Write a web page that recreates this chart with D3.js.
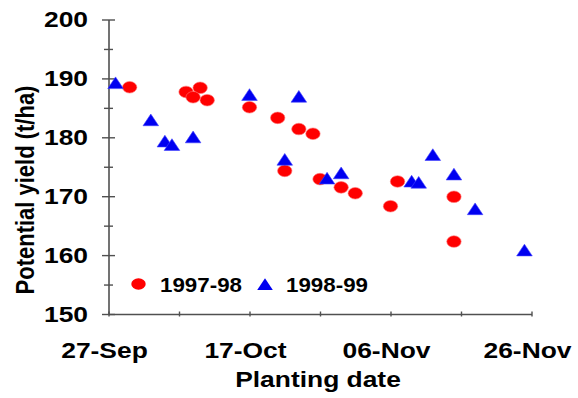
<!DOCTYPE html>
<html>
<head>
<meta charset="utf-8">
<script src="https://cdn.jsdelivr.net/npm/d3@7"></script>
<style>
  html, body { margin: 0; padding: 0; background: #fff; }
  svg { display: block; }
  text { font-family: "Liberation Sans", Arial, sans-serif; font-weight: bold; fill: #000; }
</style>
</head>
<body>
<svg id="chart" width="578" height="398"></svg>
<script>
// Planting dates (day-month) and potential yield (t/ha) for two seasons
const season1Label = "1997-98";
const season1Dates = ["30-Sep", "08-Oct", "10-Oct", "09-Oct", "11-Oct", "17-Oct", "21-Oct",
  "24-Oct", "26-Oct", "22-Oct", "27-Oct", "30-Oct", "01-Nov", "07-Nov", "06-Nov", "15-Nov", "15-Nov"];
const season1Yield = [188.5, 187.7, 188.4, 186.8, 186.3, 185.1, 183.3,
  181.4, 180.6, 174.3, 172.9, 171.5, 170.5, 172.5, 168.3, 169.9, 162.3];

const season2Label = "1998-99";
const season2Dates = ["28-Sep", "03-Oct", "05-Oct", "06-Oct", "09-Oct", "17-Oct", "24-Oct",
  "22-Oct", "28-Oct", "30-Oct", "09-Nov", "10-Nov", "12-Nov", "15-Nov", "18-Nov", "25-Nov"];
const season2Yield = [189.2, 182.9, 179.3, 178.7, 180.0, 187.2, 186.9,
  176.2, 173.0, 173.9, 172.5, 172.3, 177.0, 173.7, 167.8, 160.8];

const xStart = "27-Sep";
const xEnd = "26-Nov";
const xLabelDates = ["27-Sep", "17-Oct", "06-Nov", "26-Nov"];
const yTickValues = [150, 160, 170, 180, 190, 200];

const parseDay = s => d3.timeParse("%d-%b-%Y")(s + "-1997");
const fmtDay = d3.timeFormat("%d-%b");

const svg = d3.select("#chart");
const plotLeft = 108.5, plotRight = 531.5, plotTop = 19.5, plotBottom = 314;
const stretch = 1.2;   // horizontal widening of axis lettering
const axisColor = "#505050";

const x = d3.scaleTime().domain([parseDay(xStart), parseDay(xEnd)]).range([plotLeft, plotRight]);
const y = d3.scaleLinear().domain([150, 200]).range([plotBottom, plotTop]);

function label(g, px, py, str, size, anchor, sx) {
  return g.append("text")
    .attr("transform", `translate(${px},${py}) scale(${sx || stretch},1)`)
    .attr("text-anchor", anchor)
    .attr("font-size", size)
    .text(str);
}

// Y axis: line with crossing major and minor ticks
const yAxis = svg.append("g").attr("transform", `translate(${plotLeft},0)`)
  .call(d3.axisLeft(y).tickValues(d3.range(150, 201, 5)).tickFormat("").tickSizeOuter(0));
yAxis.select(".domain").attr("stroke", axisColor).attr("stroke-width", 1.6);
yAxis.selectAll(".tick line")
  .attr("x1", d => d % 10 === 0 ? -6.5 : -4.5)
  .attr("x2", d => d % 10 === 0 ? 6.5 : 4.5)
  .attr("stroke", axisColor).attr("stroke-width", 1.4);

// X axis: ticks every 10 days
const xTickDates = d3.timeDay.range(parseDay(xStart), d3.timeDay.offset(parseDay(xEnd), 1), 10);
const xAxis = svg.append("g").attr("transform", `translate(0,${plotBottom})`)
  .call(d3.axisBottom(x).tickValues(xTickDates).tickFormat("").tickSizeOuter(0));
xAxis.select(".domain").attr("stroke", axisColor).attr("stroke-width", 1.6);
xAxis.selectAll(".tick line")
  .attr("y1", -2.5).attr("y2", 2.5)
  .attr("stroke", axisColor).attr("stroke-width", 1.4);

// Tick labels
const labels = svg.append("g");
yTickValues.forEach(v => label(labels, 88, y(v) + 7.8, String(v), 22, "end"));
xLabelDates.forEach(s => label(labels, x(parseDay(s)) - 4, 358, fmtDay(parseDay(s)), 22, "middle"));

// Axis titles
label(svg, 318, 387, "Planting date", 22, "middle");
svg.append("text")
  .attr("transform", `translate(34,190) scale(${stretch},1) rotate(-90)`)
  .attr("text-anchor", "middle")
  .attr("font-size", 22)
  .text("Potential yield (t/ha)");

// Markers
const tri = (cx, cy) => `M${cx},${cy - 6.2}L${cx + 7.8},${cy + 5.5}L${cx - 7.8},${cy + 5.5}Z`;
const red = "#ff0000", blue = "#0000f0";

const s1 = season1Dates.map((d, i) => ({ date: parseDay(d), v: season1Yield[i] }));
const s2 = season2Dates.map((d, i) => ({ date: parseDay(d), v: season2Yield[i] }));

svg.append("g").selectAll("ellipse").data(s1).join("ellipse")
  .attr("cx", d => x(d.date)).attr("cy", d => y(d.v))
  .attr("rx", 7.2).attr("ry", 5.8)
  .attr("fill", red).attr("stroke", "#ff7070").attr("stroke-width", 0.6);

svg.append("g").selectAll("path").data(s2).join("path")
  .attr("d", d => tri(x(d.date), y(d.v)))
  .attr("fill", blue).attr("stroke", "#4040ff").attr("stroke-width", 0.6);

// Legend
const lg = svg.append("g");
lg.append("ellipse").attr("cx", 138.5).attr("cy", 284).attr("rx", 7.2).attr("ry", 5.8).attr("fill", red);
label(lg, 160, 291.5, season1Label, 20.5, "start", 1.09);
lg.append("path").attr("d", tri(265, 284.5)).attr("fill", blue);
label(lg, 286, 291.5, season2Label, 20.5, "start", 1.09);
</script>
</body>
</html>
